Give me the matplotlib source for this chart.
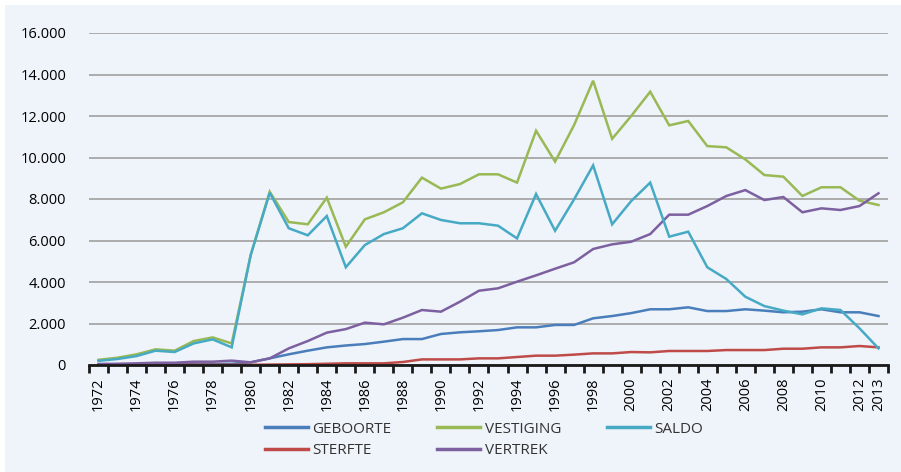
import matplotlib
matplotlib.use('Agg')
import matplotlib.pyplot as plt
from matplotlib.patches import Rectangle
from matplotlib.ticker import FuncFormatter

plt.rcParams['font.family'] = ['Open Sans', 'DejaVu Sans']

# ---------------------------------------------------------------------
# Data
# ---------------------------------------------------------------------
years = list(range(1972, 2014))

geboorte = [30, 30, 30, 40, 40, 50, 50, 60, 130, 320,
            515, 690, 850, 940, 1010, 1125, 1250, 1250, 1495, 1575,
            1625, 1685, 1815, 1815, 1930, 1930, 2250, 2360, 2500, 2685,
            2685, 2780, 2600, 2600, 2685, 2620, 2540, 2570, 2685, 2540,
            2540, 2360]

sterfte = [10, 10, 10, 10, 10, 10, 10, 10, 10, 20,
           30, 40, 60, 80, 80, 80, 145, 270, 270, 270,
           320, 320, 385, 450, 450, 500, 560, 560, 625, 610,
           675, 675, 675, 720, 720, 720, 785, 785, 850, 850,
           915, 850]

vestiging = [250, 350, 515, 755, 690, 1155, 1330, 1040, 5300, 8350,
             6890, 6780, 8065, 5700, 7020, 7360, 7840, 9030, 8500, 8720,
             9190, 9190, 8790, 11290, 9800, 11565, 13700, 10900, 12000, 13170,
             11550, 11760, 10550, 10490, 9910, 9155, 9075, 8145, 8565, 8565,
             7920, 7710]

vertrek = [50, 60, 80, 110, 110, 160, 160, 210, 130, 320,
           800, 1155, 1560, 1730, 2040, 1960, 2280, 2650, 2570, 3050,
           3580, 3695, 4015, 4320, 4640, 4950, 5590, 5815, 5940, 6310,
           7245, 7245, 7660, 8145, 8430, 7950, 8095, 7360, 7550, 7470,
           7660, 8275]

saldo = [200, 290, 430, 690, 625, 1040, 1235, 850, 5300, 8300,
         6590, 6250, 7180, 4710, 5780, 6310, 6590, 7310, 6990, 6830,
         6830, 6715, 6100, 8240, 6470, 7985, 9620, 6780, 7900, 8790,
         6185, 6425, 4710, 4145, 3290, 2840, 2620, 2440, 2730, 2650,
         1770, 800]

series_names = ['GEBOORTE', 'STERFTE', 'VESTIGING', 'VERTREK', 'SALDO']
series_colors = ['#4A7EBB', '#BE4B48', '#98B954', '#7D60A0', '#46AAC5']

# ---------------------------------------------------------------------
# Plot
# ---------------------------------------------------------------------
bg = '#EFF3FA'
fig = plt.figure(figsize=(9.01, 4.72), dpi=100, facecolor='white')
fig.patches.append(Rectangle((5 / 901, 0), 1, 1 - 5 / 472, transform=fig.transFigure,
                             facecolor=bg, edgecolor='none', zorder=-10))

ax = fig.add_axes([89 / 901, 1 - 365 / 472, (888 - 89) / 901, (365 - 33) / 472])
ax.set_facecolor(bg)

x = list(range(len(years)))
series = [geboorte, sterfte, vestiging, vertrek, saldo]
for name, vals, col in zip(series_names, series, series_colors):
    ax.plot(x, vals, color=col, linewidth=1.8, label=name, zorder=3,
            solid_joinstyle='miter')

ax.set_xlim(-0.5, len(years) - 0.5)
ax.set_ylim(0, 16000)
ax.set_yticks(range(0, 16001, 2000))
ax.yaxis.set_major_formatter(FuncFormatter(lambda v, p: f'{int(v):,}'.replace(',', '.')))
ax.grid(axis='y', color='#A6A6A6', linewidth=1.3, zorder=0)
ax.set_axisbelow(True)

# category labels every two years plus the last one
label_idx = list(range(0, len(years), 2)) + [len(years) - 1]
ax.set_xticks(label_idx)
ax.set_xticklabels([str(years[i]) for i in label_idx], rotation=90, fontsize=10.5)
ax.set_xticks([i - 0.5 for i in range(len(years) + 1)], minor=True)
ax.tick_params(axis='x', which='major', length=0, pad=9)
ax.tick_params(axis='x', which='minor', length=6, width=2, color='#1a1a1a', direction='out')
ax.tick_params(axis='y', length=0, pad=16.5, labelsize=10.5)

for s in ['top', 'right', 'left']:
    ax.spines[s].set_visible(False)
ax.spines['bottom'].set_color('#1a1a1a')
ax.spines['bottom'].set_linewidth(2)
ax.spines['bottom'].set_zorder(4)

handles, labels = ax.get_legend_handles_labels()
leg = fig.legend(handles, labels, loc='center', bbox_to_anchor=(484 / 901, 1 - 440 / 472),
                 ncol=3, frameon=False, fontsize=11, handlelength=2.8,
                 handletextpad=0.3, columnspacing=3.0, labelspacing=0.45)
for line in leg.get_lines():
    line.set_linewidth(2.5)
for t in leg.get_texts():
    t.set_color('#333333')

fig.savefig('out.png', dpi=100, facecolor=fig.get_facecolor())
